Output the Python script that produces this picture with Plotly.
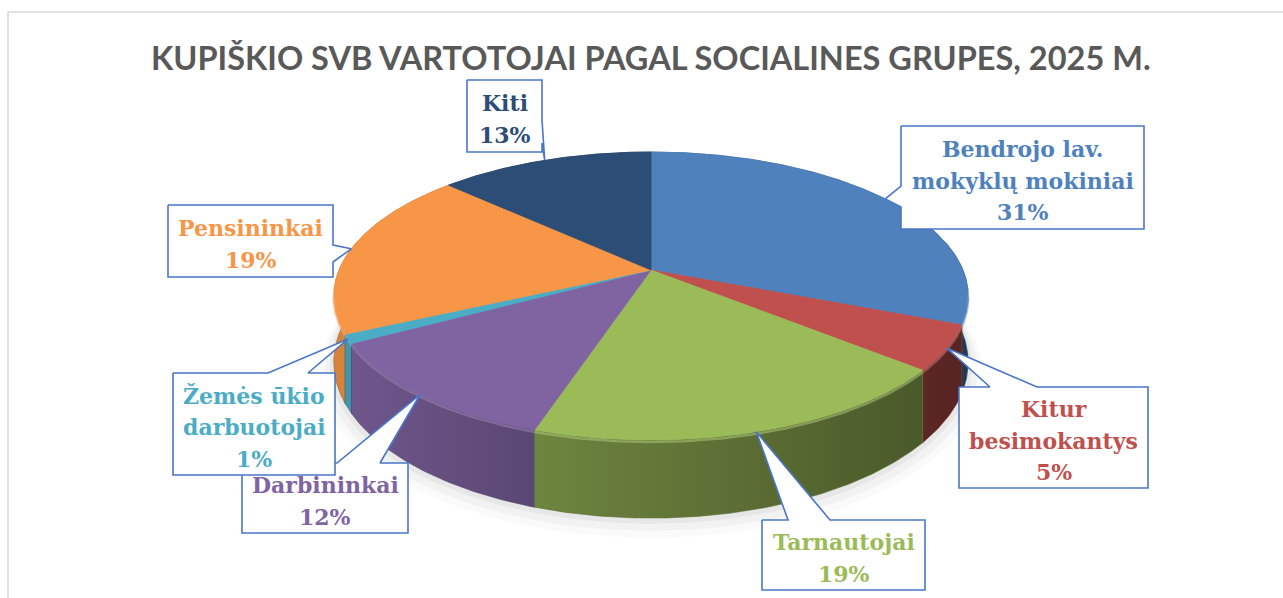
import numpy as np
import plotly.graph_objects as go

# ---------------- data ----------------
title = "KUPIŠKIO SVB VARTOTOJAI PAGAL SOCIALINES GRUPES, 2025 M."
categories = [
    "Bendrojo lav.<br>mokyklų mokiniai",
    "Kitur<br>besimokantys",
    "Tarnautojai",
    "Darbininkai",
    "Žemės ūkio<br>darbuotojai",
    "Pensininkai",
    "Kiti",
]
values = [31, 5, 19, 12, 1, 19, 13]
colors = ["#4f81bd", "#c0504d", "#9bbb59", "#8064a2", "#4bacc6", "#f79646", "#2c4d75"]

# ---------------- layout / geometry (pixels) ----------------
W, HGT = 1283, 598
CX, CY = 651.0, 270.0      # projected pie centre
A, B = 312.0, 139.3        # projected radii
E = 0.1806                 # perspective factor
DEPTH = 64.0               # wall height

# callout boxes: (x0, y0, x1, y1, side, base0, base1)
boxes = [
    (901, 126, 1144, 229, "left", 186, 207),
    (959, 387, 1148, 488, "top", 990, 1037),
    (762, 520, 925, 590, "top", 788, 830),
    (242, 463, 408, 533, "top", 337, 380),
    (173, 373, 335, 475, "top", 268, 308),
    (168, 205, 333, 277, "right", 245, 262),
    (467, 80, 542, 152, "right", 120, 143),
]
draw_order = [0, 1, 2, 3, 4, 5, 6]


def proj(theta_deg, drop=0.0, grow=0.0):
    t = np.radians(theta_deg)
    den = 1 + E * np.cos(t)
    u = CX + (A + grow) * np.sin(t) / den
    v = CY - (B + grow * 0.45) * np.cos(t) / den + drop / den
    return u, v


def Y(v):
    return HGT - np.asarray(v)


def shade(hexc, f):
    hexc = hexc.lstrip("#")
    r, g, b = (int(hexc[i:i + 2], 16) for i in (0, 2, 4))
    if f <= 1:
        r, g, b = r * f, g * f, b * f
    else:
        k = f - 1
        r, g, b = r + (255 - r) * k, g + (255 - g) * k, b + (255 - b) * k
    return "rgb(%d,%d,%d)" % (r, g, b)


fig = go.Figure()

cum = np.cumsum([0] + values) / sum(values) * 360.0
starts, ends = cum[:-1], cum[1:]

# soft shadow
for k, a in [(14, 0.02), (9, 0.03), (4, 0.045)]:
    th = np.linspace(0, 360, 361)
    u, v = proj(th, drop=DEPTH + k * 0.7, grow=k)
    fig.add_trace(go.Scatter(x=u, y=Y(v), fill="toself", mode="lines",
                             line=dict(width=0), fillcolor="rgba(0,0,0,%g)" % a,
                             hoverinfo="skip"))

# walls, back to front
mids = (starts + ends) / 2
order = np.argsort(-np.cos(np.radians(mids)))
x_left, x_right = CX - 317, CX + 317
for i in order:
    s, e = starts[i], ends[i]
    th = np.linspace(s, e, max(3, int((e - s) * 2) + 2))
    ut, vt = proj(th)
    ub, vb = proj(th[::-1], drop=DEPTH)
    xs = np.concatenate([ut, ub, ut[:1]])
    ys = np.concatenate([vt, vb, vt[:1]])
    c = colors[i]
    fig.add_trace(go.Scatter(
        x=xs, y=Y(ys), fill="toself", mode="lines",
        line=dict(width=0.6, color=shade(c, 0.6)),
        fillgradient=dict(type="horizontal", start=x_left, stop=x_right,
                          colorscale=[[0, shade(c, 0.88)], [0.3, shade(c, 0.72)],
                                      [0.75, shade(c, 0.55)], [1, shade(c, 0.45)]]),
        hoverinfo="skip"))

# top faces
for i in range(len(values)):
    s, e = starts[i], ends[i]
    th = np.linspace(s, e, max(3, int((e - s) * 2) + 2))
    u, v = proj(th)
    xs = np.concatenate([[CX], u, [CX]])
    ys = np.concatenate([[CY], v, [CY]])
    fig.add_trace(go.Scatter(x=xs, y=Y(ys), fill="toself", mode="lines",
                             line=dict(width=0.8, color=colors[i]),
                             fillcolor=colors[i], hoverinfo="skip"))

# rim highlight on the visible front edge
for i in range(len(values)):
    s, e = max(starts[i], 100.0), min(ends[i], 260.0)
    if e <= s:
        continue
    th = np.linspace(s, e, max(3, int((e - s) * 2) + 2))
    u, v = proj(th)
    fig.add_trace(go.Scatter(x=u, y=Y(v + 2), mode="lines",
                             line=dict(width=2.5, color=shade(colors[i], 1.2)),
                             opacity=0.55, hoverinfo="skip"))

# callouts
annotations = []
for i in draw_order:
    x0, y0, x1, y1, side, b0, b1 = boxes[i]
    tu, tv = proj(mids[i])
    tip = (float(tu), float(tv))
    if side == "top":
        pts = [(x0, y0), (b0, y0), tip, (b1, y0), (x1, y0), (x1, y1), (x0, y1), (x0, y0)]
    elif side == "right":
        pts = [(x0, y0), (x1, y0), (x1, b0), tip, (x1, b1), (x1, y1), (x0, y1), (x0, y0)]
    else:
        pts = [(x0, y0), (x1, y0), (x1, y1), (x0, y1), (x0, b1), tip, (x0, b0), (x0, y0)]
    fig.add_trace(go.Scatter(x=[p[0] for p in pts], y=Y([p[1] for p in pts]),
                             fill="toself", fillcolor="white", mode="lines",
                             line=dict(color="#4a76c8", width=1.6), hoverinfo="skip"))
    lines = categories[i].split("<br>") + ["%d%%" % values[i]]
    n = len(lines)
    bx, by = (x0 + x1) / 2, (y0 + y1) / 2
    for j, ln in enumerate(lines):
        vy = by + (j - (n - 1) / 2) * 31.5 + 3
        annotations.append(dict(x=bx, y=HGT - vy, xref="x", yref="y", text=ln,
                                showarrow=False, xanchor="center", yanchor="middle",
                                font=dict(family="DejaVu Serif", size=22,
                                          color=colors[i], weight="bold")))

annotations.append(dict(x=651, y=HGT - 57, xref="x", yref="y", text=title,
                        showarrow=False, xanchor="center", yanchor="middle",
                        font=dict(family="Lato", size=32.5, color="#595959", weight="bold")))

fig.update_layout(
    width=W, height=HGT,
    margin=dict(l=0, r=0, t=0, b=0),
    paper_bgcolor="white", plot_bgcolor="white",
    showlegend=False,
    xaxis=dict(range=[0, W], visible=False, fixedrange=True),
    yaxis=dict(range=[0, HGT], visible=False, fixedrange=True),
    annotations=annotations,
    shapes=[dict(type="rect", xref="x", yref="y", x0=8, x1=W + 20, y0=HGT - 12, y1=-20,
                 line=dict(color="#d9d9d9", width=1.5), layer="below")],
)

fig.write_html("out.html", config={"displayModeBar": False},
               post_script="document.body.style.margin='0';")
